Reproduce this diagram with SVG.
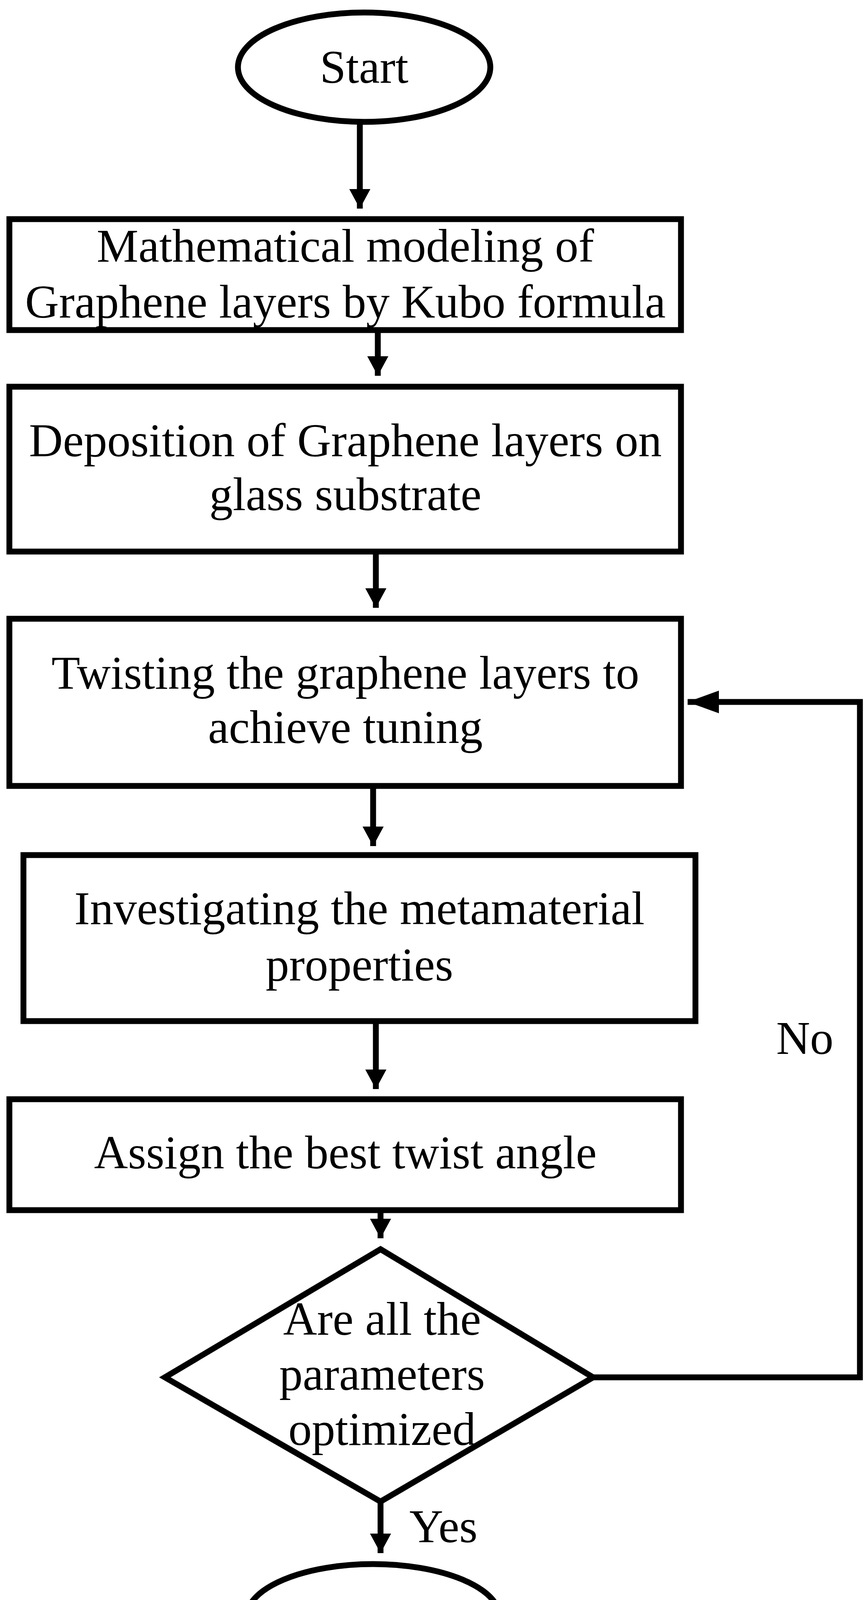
<svg xmlns="http://www.w3.org/2000/svg" width="2214" height="4323" viewBox="0 0 2214 4323">
<style>
.s{fill:#fff;stroke:#000;stroke-width:15}
.t{font-family:"Liberation Serif","Times New Roman",serif;font-size:120px;fill:#000;text-anchor:middle}
.c{fill:none;stroke:#000;stroke-width:15}
</style>
<defs>
<marker id="a" viewBox="0 0 50 54" refX="50" refY="27" markerWidth="50" markerHeight="54" markerUnits="userSpaceOnUse" orient="auto">
<path d="M0,0 L50,27 L0,54 Z" fill="#000"/>
</marker>
<marker id="b" viewBox="0 0 80 58" refX="80" refY="29" markerWidth="80" markerHeight="58" markerUnits="userSpaceOnUse" orient="auto">
<path d="M0,0 L80,29 L0,58 Z" fill="#000"/>
</marker>
</defs>
<rect width="2214" height="4323" fill="#fff"/>
<g id="connectors">
<path class="c" d="M921,312 V534" marker-end="url(#a)"/>
<path class="c" d="M967,845 V962" marker-end="url(#a)"/>
<path class="c" d="M962,1412 V1556" marker-end="url(#a)"/>
<path class="c" d="M955,2012 V2166" marker-end="url(#a)"/>
<path class="c" d="M962,2614 V2788" marker-end="url(#a)"/>
<path class="c" d="M974,3098 V3170" marker-end="url(#a)"/>
<path class="c" d="M974,3844 V3976" marker-end="url(#a)"/>
<path class="c" d="M1518,3526 H2201 V1797 H1760" marker-end="url(#b)"/>
<text class="t" x="2060" y="2698">No</text>
<text class="t" x="1135" y="3948">Yes</text>
</g>
<g id="start">
<ellipse class="s" cx="932" cy="172" rx="323" ry="140"/>
<text class="t" x="932" y="212">Start</text>
</g>
<g id="box1">
<rect class="s" x="24" y="561" width="1719" height="284"/>
<text class="t" x="884" y="670">Mathematical modeling of</text>
<text class="t" x="884" y="813">Graphene layers by Kubo formula</text>
</g>
<g id="box2">
<rect class="s" x="24" y="990" width="1719" height="422"/>
<text class="t" x="884" y="1168">Deposition of Graphene layers on</text>
<text class="t" x="884" y="1306">glass substrate</text>
</g>
<g id="box3">
<rect class="s" x="24" y="1584" width="1719" height="428"/>
<text class="t" x="884" y="1763">Twisting the graphene layers to</text>
<text class="t" x="884" y="1902">achieve tuning</text>
</g>
<g id="box4">
<rect class="s" x="60" y="2189" width="1720" height="425"/>
<text class="t" x="920" y="2366">Investigating the metamaterial</text>
<text class="t" x="920" y="2510">properties</text>
</g>
<g id="box5">
<rect class="s" x="24" y="2814" width="1719" height="284"/>
<text class="t" x="884" y="2991">Assign the best twist angle</text>
</g>
<g id="decision">
<polygon class="s" points="974,3198 1518,3526 974,3844 422,3526"/>
<text class="t" x="978" y="3417">Are all the</text>
<text class="t" x="978" y="3558">parameters</text>
<text class="t" x="978" y="3699">optimized</text>
</g>
<g id="stop">
<ellipse class="s" cx="955" cy="4140" rx="324" ry="136"/>
<text class="t" x="955" y="4180">Stop</text>
</g>
</svg>
